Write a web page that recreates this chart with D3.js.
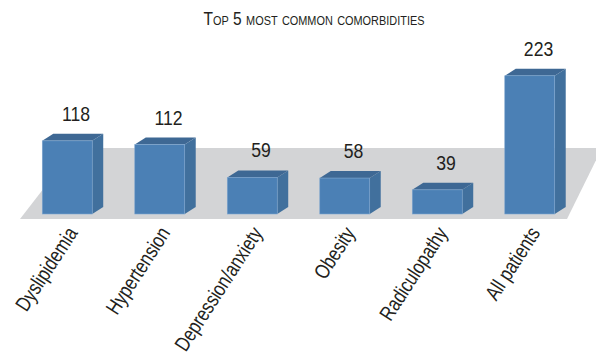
<!DOCTYPE html>
<html>
<head>
<meta charset="utf-8">
<script src="https://cdnjs.cloudflare.com/ajax/libs/d3/7.8.5/d3.min.js"></script>
<style>
  body { margin: 0; background: #ffffff; }
  svg text { font-family: "Liberation Sans", Arial, sans-serif; fill: #231f20; }
</style>
</head>
<body>
<div id="chart"></div>
<script>
// Data
var categories = ["Dyslipidemia", "Hypertension", "Depression/anxiety", "Obesity", "Radiculopathy", "All patients"];
var counts = [118, 112, 59, 58, 39, 223];
var chartTitle = "Top 5 most common comorbidities";

var width = 596, height = 360;
var depthX = 11, depthY = 7;   // 3d offset of the boxes
var narrow = 0.8;              // horizontal squeeze to mimic a condensed face

var svg = d3.select("#chart")
    .append("svg")
    .attr("width", width)
    .attr("height", height);

var x = d3.scaleBand()
    .domain(categories)
    .range([21, 576])
    .paddingInner(0.46)
    .paddingOuter(0.23);

var y = d3.scaleLinear()
    .domain([0, 250])
    .range([214, 59]);

// grey floor
svg.append("polygon")
    .attr("points", [[20, 219], [567, 219], [602, 148], [75, 148]].join(" "))
    .attr("fill", "#d3d4d6");

var bars = svg.append("g").selectAll("g")
    .data(categories)
    .join("g");

// side face
bars.append("polygon")
    .attr("points", function (d, i) {
        var x1 = x(d) + x.bandwidth();
        return [[x1, y(counts[i])], [x1 + depthX, y(counts[i]) - depthY],
                [x1 + depthX, y(0) - depthY], [x1, y(0)]].join(" ");
    })
    .attr("fill", "#41709d");

// top face
bars.append("polygon")
    .attr("points", function (d, i) {
        var x0 = x(d), x1 = x(d) + x.bandwidth(), yt = y(counts[i]);
        return [[x0, yt], [x0 + depthX, yt - depthY], [x1 + depthX, yt - depthY], [x1, yt]].join(" ");
    })
    .attr("fill", "#3e6894");

// front face
bars.append("rect")
    .attr("x", function (d) { return x(d); })
    .attr("y", function (d, i) { return y(counts[i]); })
    .attr("width", x.bandwidth())
    .attr("height", function (d, i) { return y(0) - y(counts[i]); })
    .attr("fill", "#4b80b5")
    .attr("stroke", "#7ea6cf")
    .attr("stroke-width", 0.6);

// value labels
bars.append("text")
    .attr("transform", function (d, i) {
        var cx = x(d) + x.bandwidth() / 2 + depthX * 0.8;
        var cy = y(counts[i]) - depthY - 13;
        return "translate(" + cx + "," + cy + ") scale(0.84,1)";
    })
    .attr("text-anchor", "middle")
    .style("font-size", "21px")
    .text(function (d, i) { return counts[i]; });

// category labels
svg.append("g").selectAll("text")
    .data(categories)
    .join("text")
    .attr("transform", function (d) {
        return "translate(" + (x(d) + x.bandwidth() / 2 + 5) + ",229) rotate(-57) scale(" + narrow + ",1)";
    })
    .attr("text-anchor", "end")
    .attr("dy", "0.35em")
    .style("font-size", "21px")
    .text(function (d) { return d; });

// title
svg.append("text")
    .attr("transform", "translate(314,25) scale(0.84,1)")
    .attr("text-anchor", "middle")
    .style("font-size", "18.5px")
    .style("font-variant", "small-caps")
    .text(chartTitle);
</script>
</body>
</html>
